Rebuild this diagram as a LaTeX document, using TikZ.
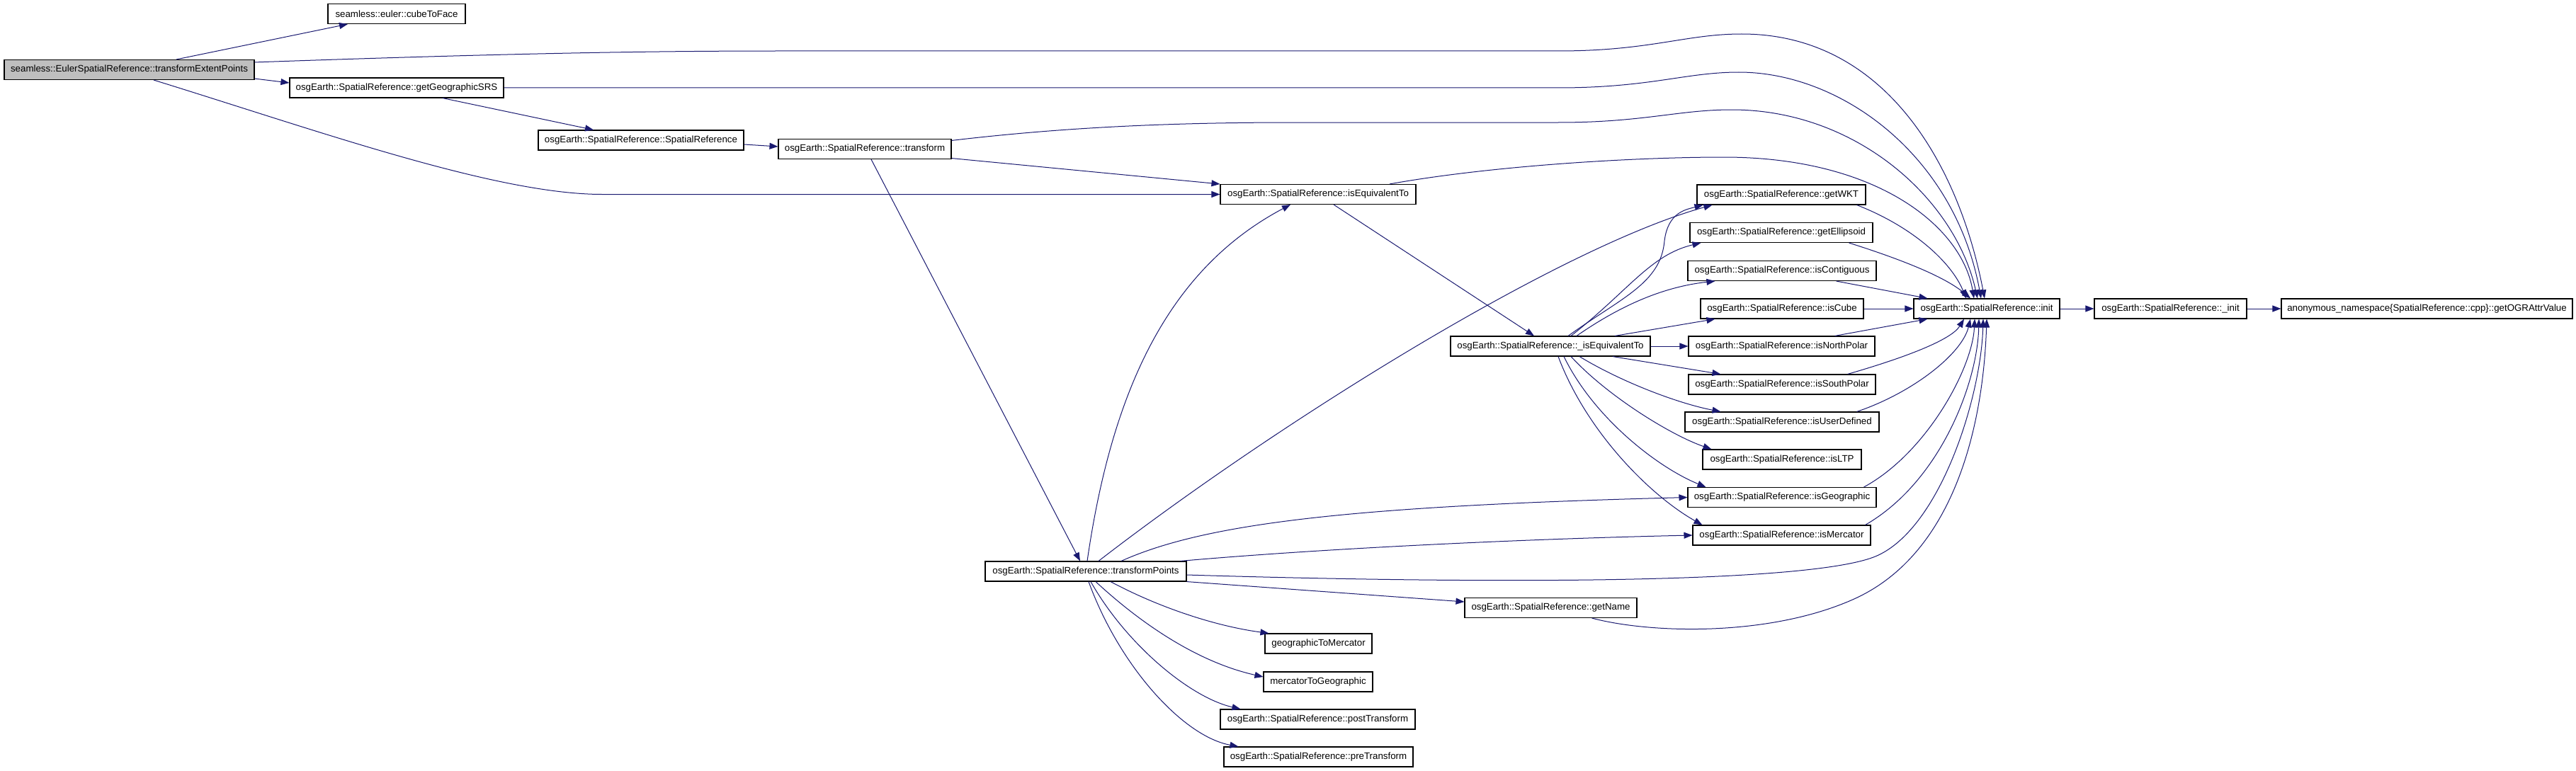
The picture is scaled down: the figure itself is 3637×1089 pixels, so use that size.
\documentclass[tikz,border=0pt]{standalone}
\usepackage{fontspec}
\setmainfont{Liberation Sans}
\usetikzlibrary{arrows.meta,calc}
\definecolor{edgec}{HTML}{191970}
\definecolor{rootfill}{HTML}{BFBFBF}
\tikzset{
  box/.style={draw=black, line width=1.1pt, fill=white, minimum height=28pt, inner sep=0pt,
    font=\fontsize{13.3}{15}\selectfont, text=black},
  rootbox/.style={box, fill=rootfill},
  call/.style={draw=edgec, line width=1pt, -{Triangle[length=12pt,width=9pt]}}
}
\begin{document}
\begin{tikzpicture}[x=1pt,y=-1pt]
\useasboundingbox (0,0) rectangle (3637,1089);
% nodes
\node[rootbox, minimum width=353pt] (tep) at (182.5,98.5) {seamless::EulerSpatialReference::transformExtentPoints};
\node[box, minimum width=194pt] (cube) at (560,19.5) {seamless::euler::cubeToFace};
\node[box, minimum width=302pt] (geosrs) at (560,124) {osgEarth::SpatialReference::getGeographicSRS};
\node[box, minimum width=290pt] (srctor) at (905,198) {osgEarth::SpatialReference::SpatialReference};
\node[box, minimum width=244pt] (xform) at (1221,210.5) {osgEarth::SpatialReference::transform};
\node[box, minimum width=276pt] (iseq) at (1861,274.5) {osgEarth::SpatialReference::isEquivalentTo};
\node[box, minimum width=284pt] (tpts) at (1533,807) {osgEarth::SpatialReference::transformPoints};
\node[box, minimum width=282pt] (uiseq) at (2189,489) {osgEarth::SpatialReference::\_isEquivalentTo};
\node[box, minimum width=243pt] (getname) at (2189.5,858.5) {osgEarth::SpatialReference::getName};
\node[box, minimum width=151pt] (g2m) at (1861.5,909) {geographicToMercator};
\node[box, minimum width=154pt] (m2g) at (1861,963) {mercatorToGeographic};
\node[box, minimum width=275pt] (post) at (1860.5,1016) {osgEarth::SpatialReference::postTransform};
\node[box, minimum width=267pt] (pre) at (1861.5,1069) {osgEarth::SpatialReference::preTransform};
\node[box, minimum width=238pt] (wkt) at (2515,275) {osgEarth::SpatialReference::getWKT};
\node[box, minimum width=258pt] (ellip) at (2515,328.5) {osgEarth::SpatialReference::getEllipsoid};
\node[box, minimum width=266pt] (contig) at (2516,382.5) {osgEarth::SpatialReference::isContiguous};
\node[box, minimum width=230pt] (iscube) at (2516,436) {osgEarth::SpatialReference::isCube};
\node[box, minimum width=263pt] (npolar) at (2515.5,489) {osgEarth::SpatialReference::isNorthPolar};
\node[box, minimum width=264pt] (spolar) at (2516,543) {osgEarth::SpatialReference::isSouthPolar};
\node[box, minimum width=274pt] (userdef) at (2516,596) {osgEarth::SpatialReference::isUserDefined};
\node[box, minimum width=224pt] (ltp) at (2516,649) {osgEarth::SpatialReference::isLTP};
\node[box, minimum width=266pt] (geog) at (2516,702.5) {osgEarth::SpatialReference::isGeographic};
\node[box, minimum width=251pt] (merc) at (2515.5,756) {osgEarth::SpatialReference::isMercator};
\node[box, minimum width=206pt] (init) at (2805,436) {osgEarth::SpatialReference::init};
\node[box, minimum width=215pt] (uinit) at (3064.5,436) {osgEarth::SpatialReference::\_init};
\node[box, minimum width=411pt] (ogr) at (3426.5,436) {anonymous\_namespace\{SpatialReference::cpp\}::getOGRAttrValue};
% edges from transformExtentPoints
\draw[call] ($(tep.north)+(66.5,0)$) -- ($(cube.south)+(-69,0)$);
\draw[call] ($(tep.north east)+(0,4)$) .. controls (700,76) and (900,72) .. (1100,72) -- (2200,72) .. controls (2330,72) and (2380,48) .. (2459,48) .. controls (2660,48) and (2765,230) .. ($(init.north)+(-3,0)$);
\draw[call] ($(tep.south east)+(0,-2)$) -- ($(geosrs.west)+(0,-7)$);
\draw[call] ($(tep.south)+(34.5,0)$) .. controls (450,185) and (700,274.5) .. (850,274.5) -- (iseq.west);
% getGeographicSRS
\draw[call] (geosrs.east) -- (2200,124) .. controls (2330,124) and (2380,102) .. (2455,102) .. controls (2600,102) and (2760,220) .. ($(init.north)+(-8,0)$);
\draw[call] ($(geosrs.south)+(65,0)$) -- ($(srctor.north)+(-67,0)$);
% SpatialReference ctor
\draw[call] ($(srctor.east)+(0,6)$) -- ($(xform.west)+(0,-3.5)$);
% transform
\draw[call] ($(xform.north east)+(0,2.5)$) .. controls (1500,180) and (1650,173) .. (1826,173) -- (2200,173) .. controls (2320,173) and (2370,155) .. (2445,155) .. controls (2620,155) and (2760,280) .. ($(init.north)+(-13,0)$);
\draw[call] ($(xform.south east)+(0,-1.5)$) -- (iseq.north west);
\draw[call] ($(xform.south)+(9,0)$) -- ($(tpts.north)+(-8,0)$);
% isEquivalentTo
\draw[call] ($(iseq.north)+(101,0)$) .. controls (2100,235) and (2300,222) .. (2434,222) .. controls (2650,222) and (2770,320) .. ($(init.north)+(-18,0)$);
\draw[call] ($(iseq.south)+(22,0)$) -- ($(uiseq.north)+(-23,0)$);
% _isEquivalentTo fan
\draw[call] ($(uiseq.north)+(25,0)$) .. controls (2290,420) and (2345,400) .. (2350,340) .. controls (2355,300) and (2380,296) .. ($(wkt.south west)+(9,0)$);
\draw[call] ($(uiseq.north)+(29,0)$) .. controls (2300,410) and (2330,360) .. ($(ellip.south west)+(16,0)$);
\draw[call] ($(uiseq.north)+(37,0)$) .. controls (2290,430) and (2350,405) .. ($(contig.south west)+(39,0)$);
\draw[call] ($(uiseq.north)+(91,0)$) -- ($(iscube.south west)+(21,0)$);
\draw[call] (uiseq.east) -- (npolar.west);
\draw[call] ($(uiseq.south)+(88,0)$) -- ($(spolar.north west)+(46,0)$);
\draw[call] ($(uiseq.south)+(41,0)$) .. controls (2290,540) and (2370,570) .. ($(userdef.north west)+(51,0)$);
\draw[call] ($(uiseq.south)+(29,0)$) .. controls (2270,560) and (2360,615) .. ($(ltp.north west)+(13,0)$);
\draw[call] ($(uiseq.south)+(19,0)$) .. controls (2250,590) and (2340,660) .. ($(geog.north west)+(26,0)$);
\draw[call] ($(uiseq.south)+(11,0)$) .. controls (2240,610) and (2330,700) .. ($(merc.north west)+(14,0)$);
% into init
\draw[call] ($(wkt.south east)+(-13,0)$) .. controls (2700,320) and (2755,370) .. ($(init.north)+(-29,0)$);
\draw[call] ($(ellip.south east)+(-34,0)$) .. controls (2680,365) and (2745,390) .. ($(init.north)+(-23,0)$);
\draw[call] ($(contig.south east)+(-57,0)$) -- ($(init.north west)+(20,0)$);
\draw[call] (iscube.east) -- (init.west);
\draw[call] ($(npolar.north east)+(-57,0)$) -- ($(init.south west)+(20,0)$);
\draw[call] ($(spolar.north east)+(-40,0)$) .. controls (2690,505) and (2755,480) .. ($(init.south)+(-32,0)$);
\draw[call] ($(userdef.north east)+(-32,0)$) .. controls (2700,555) and (2770,500) .. ($(init.south)+(-23,0)$);
\draw[call] ($(geog.north east)+(-18,0)$) .. controls (2720,640) and (2785,520) .. ($(init.south)+(-17,0)$);
\draw[call] ($(merc.north east)+(-8,0)$) .. controls (2740,680) and (2792,540) .. ($(init.south)+(-11,0)$);
\draw[call] ($(tpts.east)+(0,5)$) .. controls (2100,825) and (2560,825) .. (2650,785) .. controls (2740,745) and (2797,560) .. ($(init.south)+(-5,0)$);
\draw[call] ($(getname.south east)+(-64,0)$) .. controls (2330,895) and (2500,900) .. (2620,845) .. controls (2760,780) and (2800,600) .. (init.south);
% transformPoints
\draw[call] ($(tpts.north)+(2,0)$) .. controls (1570,550) and (1650,380) .. ($(iseq.south)+(-39,0)$);
\draw[call] ($(tpts.north)+(18,0)$) .. controls (1800,600) and (2200,350) .. ($(wkt.south west)+(22,0)$);
\draw[call] ($(tpts.north)+(50,0)$) .. controls (1700,740) and (1900,715) .. (geog.west);
\draw[call] ($(tpts.north east)+(-9,0)$) .. controls (1900,772) and (2200,760) .. (merc.west);
\draw[call] (tpts.south east) -- ($(getname.west)+(0,-8.5)$);
\draw[call] ($(tpts.south)+(35,0)$) .. controls (1640,860) and (1720,885) .. ($(g2m.north west)+(6,0)$);
\draw[call] ($(tpts.south)+(14,0)$) .. controls (1610,880) and (1690,935) .. ($(m2g.west)+(0,-7)$);
\draw[call] ($(tpts.south)+(7,0)$) .. controls (1590,910) and (1680,985) .. ($(post.north west)+(29,0)$);
\draw[call] ($(tpts.south)+(4,0)$) .. controls (1580,940) and (1670,1040) .. ($(pre.north west)+(21,0)$);
% init chain
\draw[call] (init.east) -- (uinit.west);
\draw[call] (uinit.east) -- (ogr.west);
\end{tikzpicture}
\end{document}
